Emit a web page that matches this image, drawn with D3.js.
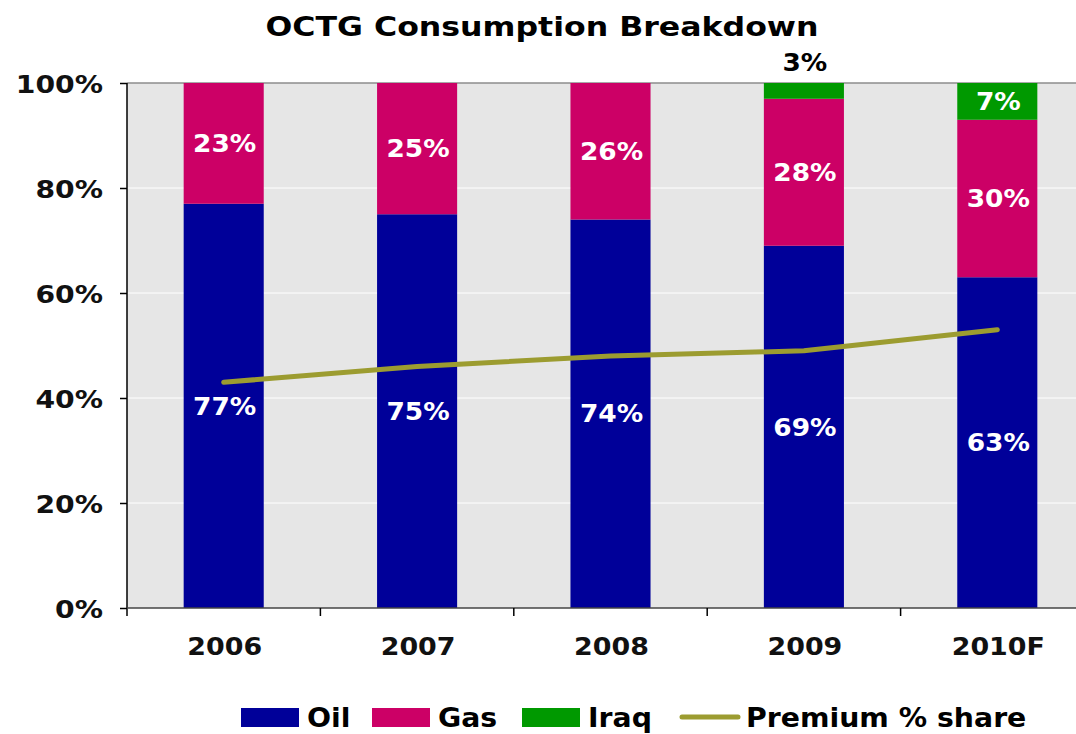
<!DOCTYPE html>
<html>
<head>
<meta charset="utf-8">
<script src="https://cdn.jsdelivr.net/npm/d3@7"></script>
<style>
  body { margin: 0; background: #fff; }
  text { font-family: "DejaVu Sans", Verdana, sans-serif; font-weight: bold; }
</style>
</head>
<body>
<svg id="chart" width="1076" height="734"></svg>
<script>
// data
const years = ['2006', '2007', '2008', '2009', '2010F'];
const oil = [77, 75, 74, 69, 63];
const gas = [23, 25, 26, 28, 30];
const iraq = [0, 0, 0, 3, 7];
const premium = [43, 46, 48, 49, 53];
const yTicks = [0, 20, 40, 60, 80, 100];

const colors = { oil: '#000099', gas: '#cc0066', iraq: '#009900', premium: '#9c9c30' };

const svg = d3.select('#chart');
const plot = { left: 127, right: 1094, top: 83, bottom: 608 };

// Verdana-ish: stretch DejaVu glyphs horizontally around the anchor point
function wide(sel, px, py, sx) {
  sel.attr('x', 0).attr('y', 0)
    .attr('transform', function (d, i) {
      const tx = typeof px === 'function' ? px(d, i) : px;
      const ty = typeof py === 'function' ? py(d, i) : py;
      return `translate(${tx},${ty}) scale(${sx},1)`;
    });
  return sel;
}

const x = d3.scaleBand().domain(years)
  .range([plot.left, plot.right])
  .paddingInner(0.586).paddingOuter(0.293);
const y = d3.scaleLinear().domain([0, 100]).range([plot.bottom, plot.top]);

// plot background
svg.append('rect')
  .attr('x', plot.left).attr('y', plot.top)
  .attr('width', plot.right - plot.left).attr('height', plot.bottom - plot.top)
  .attr('fill', '#e6e6e6');

// white gridlines
svg.append('g').selectAll('line')
  .data(yTicks.filter(d => d > 0 && d < 100))
  .join('line')
  .attr('x1', plot.left).attr('x2', plot.right)
  .attr('y1', d => y(d)).attr('y2', d => y(d))
  .attr('stroke', '#fff').attr('stroke-width', 1);

// top border
svg.append('line')
  .attr('x1', plot.left).attr('x2', plot.right)
  .attr('y1', y(100)).attr('y2', y(100))
  .attr('stroke', '#8c8c8c').attr('stroke-width', 1.5);

// stacked bars
const rows = years.map((yr, i) => ({ yr, oil: oil[i], gas: gas[i], iraq: iraq[i] }));
const stack = d3.stack().keys(['oil', 'gas', 'iraq'])(rows);

const gBars = svg.append('g');
stack.forEach(layer => {
  gBars.selectAll(null)
    .data(layer)
    .join('rect')
    .attr('x', d => x(d.data.yr))
    .attr('width', x.bandwidth())
    .attr('y', d => y(d[1]))
    .attr('height', d => y(d[0]) - y(d[1]))
    .attr('fill', colors[layer.key]);
});

// segment labels (small ones go above the plot)
stack.forEach(layer => {
  const lbl = gBars.selectAll(null)
    .data(layer.filter(d => d[1] - d[0] > 0))
    .join('text')
    .attr('dy', '0.36em')
    .attr('text-anchor', 'middle')
    .attr('font-size', 24)
    .attr('fill', d => (d[1] - d[0] < 5 ? '#000' : '#fff'))
    .text(d => (d[1] - d[0]) + '%');
  wide(lbl,
    d => x(d.data.yr) + x.bandwidth() / 2 + 1,
    d => (d[1] - d[0] < 5 ? y(100) - 21 : y((d[0] + d[1]) / 2)),
    1.1);
});

// premium share line
const line = d3.line()
  .x((d, i) => x(years[i]) + x.bandwidth() / 2)
  .y(d => y(d));
svg.append('path')
  .datum(premium)
  .attr('d', line)
  .attr('fill', 'none')
  .attr('stroke', colors.premium)
  .attr('stroke-width', 5)
  .attr('stroke-linecap', 'round')
  .attr('stroke-linejoin', 'round');

// y axis
const yAxis = svg.append('g')
  .attr('transform', `translate(${plot.left},0)`)
  .call(d3.axisLeft(y).tickValues(yTicks).tickFormat(d => d + '%').tickSize(7));
yAxis.select('.domain').attr('d', `M0,${plot.top}V${plot.bottom + 8}`).attr('stroke', '#000').attr('stroke-width', 1.5);
yAxis.selectAll('.tick line').attr('stroke', '#000').attr('stroke-width', 1.5);
yAxis.selectAll('.tick text')
  .attr('font-size', 25).attr('fill', '#111').attr('dy', '0.36em')
  .style('font-family', '"DejaVu Sans", Verdana, sans-serif').style('font-weight', 'bold')
  .call(s => wide(s, -24, 0, 1.13));

// x axis line and boundary ticks
svg.append('line')
  .attr('x1', plot.left).attr('x2', plot.right)
  .attr('y1', plot.bottom).attr('y2', plot.bottom)
  .attr('stroke', '#444').attr('stroke-width', 1.5);
svg.append('g').selectAll('line')
  .data(years.slice(1))
  .join('line')
  .attr('x1', d => x(d) - x.step() * x.paddingInner() / 2)
  .attr('x2', d => x(d) - x.step() * x.paddingInner() / 2)
  .attr('y1', plot.bottom).attr('y2', plot.bottom + 8)
  .attr('stroke', '#000').attr('stroke-width', 1.5);

const xLbl = svg.append('g').selectAll('text')
  .data(years)
  .join('text')
  .attr('text-anchor', 'middle')
  .attr('font-size', 24)
  .attr('fill', '#111')
  .text(d => d);
wide(xLbl, d => x(d) + x.bandwidth() / 2 + 1, 655, 1.12);

// title
const title = svg.append('text')
  .attr('text-anchor', 'middle')
  .attr('font-size', 27)
  .attr('fill', '#000')
  .text('OCTG Consumption Breakdown');
wide(title, 542, 36, 1.17);

// legend
const legendItems = [
  { label: 'Oil', color: colors.oil, type: 'rect', x: 241 },
  { label: 'Gas', color: colors.gas, type: 'rect', x: 372 },
  { label: 'Iraq', color: colors.iraq, type: 'rect', x: 522 },
  { label: 'Premium % share', color: colors.premium, type: 'line', x: 680 }
];
const gLeg = svg.append('g');
legendItems.forEach(it => {
  if (it.type === 'rect') {
    gLeg.append('rect')
      .attr('x', it.x).attr('y', 708).attr('width', 58).attr('height', 19)
      .attr('fill', it.color);
  } else {
    gLeg.append('line')
      .attr('x1', it.x + 2).attr('x2', it.x + 58).attr('y1', 717).attr('y2', 717)
      .attr('stroke', it.color).attr('stroke-width', 5).attr('stroke-linecap', 'round');
  }
  const t = gLeg.append('text')
    .attr('font-size', 26)
    .attr('fill', '#000')
    .text(it.label);
  wide(t, it.x + 66, 727, 1.09);
});
</script>
</body>
</html>
